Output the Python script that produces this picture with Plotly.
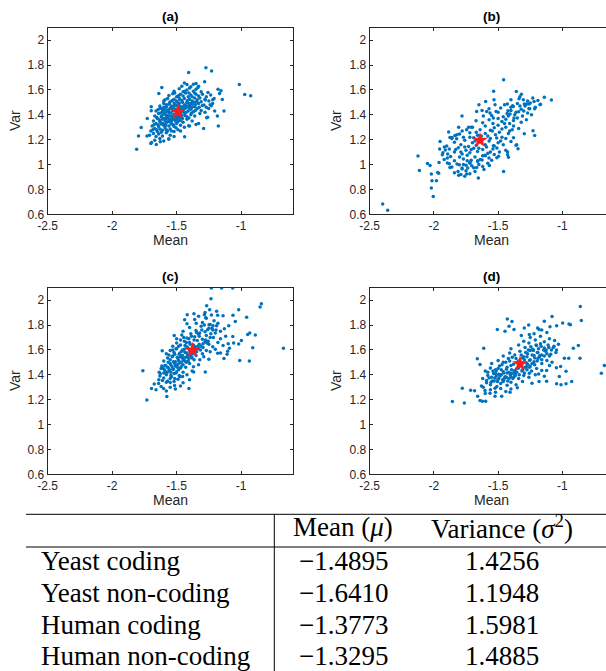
import plotly.graph_objects as go

W, H = 606, 671

# ---------------- data ----------------
row_labels = ["Yeast coding", "Yeast non-coding", "Human coding", "Human non-coding"]
mean_vals = [-1.4895, -1.6410, -1.3773, -1.3295]
var_vals = [1.4256, 1.1948, 1.5981, 1.4885]
panel_titles = ["(a)", "(b)", "(c)", "(d)"]
x_tick_vals = [-2.5, -2.0, -1.5, -1.0]
x_tick_text = ["-2.5", "-2", "-1.5", "-1"]
y_tick_vals = [0.6, 0.8, 1.0, 1.2, 1.4, 1.6, 1.8, 2.0]
y_tick_text = ["0.6", "0.8", "1", "1.2", "1.4", "1.6", "1.8", "2"]

yeast_coding_pts = [
    (-1.273,1.778),(-1.407,1.74),(-1.229,1.751),(-1.35,1.652),(-1.283,1.665),(-1.42,1.644),(-1.335,1.62),
    (-1.615,1.62),(-1.014,1.644),(-0.972,1.563),(-0.926,1.553),(-1.179,1.606),(-1.156,1.593),(-1.167,1.572),
    (-1.146,1.523),(-1.133,1.43),(-1.638,1.572),(-1.697,1.465),(-1.697,1.432),(-1.728,1.371),(-1.775,1.298),
    (-1.796,1.229),(-1.81,1.122),(-1.695,1.178),(-1.658,1.162),(-1.627,1.183),(-1.562,1.205),(-1.438,1.224),
    (-1.407,1.312),(-1.35,1.322),(-1.291,1.29),(-1.267,1.376),(-1.177,1.309),(-1.205,1.43),(-1.184,1.39),
    (-1.231,1.473),(-1.21,1.531),(-1.73,1.23),(-1.70,1.17),(-1.26,1.38),(-1.33,1.33),(-1.40,1.31),(-1.47,1.27),
    (-1.257,1.58),(-1.236,1.558),(-1.278,1.518),(-1.221,1.491),(-1.252,1.45),(-1.288,1.478),
    (-1.46,1.63),(-1.44,1.655),(-1.39,1.625),(-1.37,1.645),(-1.33,1.63),
    (-1.52,1.59),(-1.48,1.61),(-1.45,1.585),(-1.42,1.60),(-1.40,1.615),(-1.37,1.59),(-1.35,1.605),(-1.31,1.585),
    (-1.56,1.555),(-1.53,1.57),(-1.50,1.545),(-1.47,1.565),(-1.45,1.55),(-1.43,1.575),(-1.41,1.545),(-1.39,1.56),
    (-1.36,1.575),(-1.33,1.55),(-1.30,1.565),(-1.27,1.545),
    (-1.60,1.51),(-1.57,1.53),(-1.55,1.505),(-1.52,1.525),(-1.50,1.51),(-1.48,1.535),(-1.46,1.515),(-1.44,1.53),
    (-1.42,1.505),(-1.40,1.525),(-1.38,1.51),(-1.36,1.535),(-1.34,1.52),(-1.31,1.505),(-1.28,1.525),(-1.25,1.51),(-1.22,1.52),
    (-1.63,1.47),(-1.60,1.49),(-1.58,1.465),(-1.56,1.485),(-1.54,1.47),(-1.52,1.495),(-1.50,1.475),(-1.48,1.49),
    (-1.46,1.465),(-1.44,1.48),(-1.42,1.495),(-1.40,1.47),(-1.38,1.485),(-1.36,1.465),(-1.33,1.49),(-1.30,1.475),
    (-1.27,1.46),(-1.24,1.48),
    (-1.66,1.43),(-1.63,1.45),(-1.61,1.425),(-1.59,1.445),(-1.57,1.435),(-1.55,1.455),(-1.53,1.43),(-1.51,1.445),
    (-1.49,1.425),(-1.47,1.45),(-1.45,1.435),(-1.43,1.455),(-1.41,1.43),(-1.39,1.445),(-1.37,1.425),(-1.34,1.45),
    (-1.31,1.435),(-1.28,1.42),
    (-1.67,1.39),(-1.64,1.41),(-1.62,1.385),(-1.60,1.405),(-1.58,1.395),(-1.56,1.415),(-1.54,1.39),(-1.52,1.405),
    (-1.50,1.385),(-1.48,1.41),(-1.46,1.395),(-1.44,1.415),(-1.42,1.385),(-1.39,1.40),(-1.36,1.39),(-1.32,1.41),
    (-1.68,1.35),(-1.65,1.37),(-1.63,1.345),(-1.61,1.365),(-1.59,1.355),(-1.57,1.375),(-1.55,1.345),(-1.53,1.365),
    (-1.51,1.35),(-1.49,1.37),(-1.47,1.355),(-1.45,1.34),(-1.42,1.365),(-1.38,1.35),
    (-1.69,1.31),(-1.66,1.33),(-1.64,1.305),(-1.62,1.325),(-1.60,1.315),(-1.58,1.335),(-1.56,1.31),(-1.54,1.325),
    (-1.52,1.305),(-1.50,1.33),(-1.47,1.315),(-1.44,1.30),
    (-1.70,1.27),(-1.67,1.29),(-1.65,1.265),(-1.63,1.285),(-1.61,1.275),(-1.59,1.295),(-1.57,1.27),(-1.55,1.285),
    (-1.52,1.265),(-1.49,1.28),
    (-1.71,1.235),(-1.68,1.25),(-1.66,1.225),(-1.64,1.245),(-1.61,1.23),(-1.58,1.255),(-1.55,1.235),(-1.52,1.225),
    (-1.67,1.195),(-1.63,1.21),(-1.60,1.19),(-1.56,1.205),
    (-1.59,1.52),(-1.555,1.495),(-1.535,1.515),(-1.515,1.48),(-1.495,1.5),(-1.475,1.52),(-1.455,1.5),(-1.435,1.465),
    (-1.415,1.515),(-1.395,1.49),(-1.375,1.5),(-1.355,1.48),(-1.345,1.505),(-1.325,1.46),
    (-1.645,1.44),(-1.625,1.415),(-1.605,1.435),(-1.585,1.42),(-1.565,1.44),(-1.545,1.415),(-1.525,1.455),(-1.505,1.44),
    (-1.485,1.455),(-1.465,1.42),(-1.445,1.445),(-1.425,1.42),(-1.405,1.455),(-1.385,1.415),(-1.355,1.435),
    (-1.655,1.38),(-1.635,1.36),(-1.615,1.39),(-1.595,1.37),(-1.575,1.39),(-1.555,1.365),(-1.535,1.38),(-1.515,1.36),
    (-1.495,1.39),(-1.475,1.375),(-1.455,1.37),(-1.435,1.395),(-1.405,1.375),
    (-1.675,1.32),(-1.645,1.32),(-1.625,1.34),(-1.605,1.33),(-1.585,1.315),(-1.565,1.345),(-1.545,1.335),(-1.525,1.32),(-1.49,1.345),
    (-1.685,1.28),(-1.655,1.28),(-1.62,1.26),(-1.58,1.28),(-1.54,1.27),(-1.505,1.295),
    (-1.515,1.575),(-1.485,1.555),(-1.44,1.59),(-1.405,1.575),(-1.38,1.545),(-1.35,1.565),(-1.32,1.535),
    (-1.62,1.45),(-1.6,1.46),(-1.58,1.48),(-1.56,1.43),(-1.54,1.45),(-1.52,1.47),(-1.5,1.43),(-1.48,1.47),
    (-1.46,1.44),(-1.44,1.46),(-1.42,1.47),(-1.4,1.49),(-1.38,1.46),(-1.36,1.5),(-1.58,1.37),(-1.56,1.39),
    (-1.54,1.35),(-1.52,1.38),(-1.5,1.36),(-1.48,1.39),
]

yeast_noncoding_pts = [
    (-2.399,0.683),(-2.36,0.632),(-2.005,0.744),(-2.02,0.811),(-2.015,0.87),(-1.98,0.87),(-2.02,0.924),
    (-1.97,0.937),(-1.963,0.929),(-2.113,0.953),(-2.124,1.068),(-2.05,1.009),(-2.03,0.993),(-1.96,1.017),
    (-1.952,1.186),(-1.955,1.124),(-1.934,1.079),(-1.919,1.14),(-1.911,1.116),(-1.893,1.084),(-1.895,1.052),
    (-1.885,1.261),(-1.875,1.218),(-1.859,1.218),(-1.836,1.234),(-1.82,1.24),(-1.823,1.208),(-1.807,1.299),
    (-1.781,1.39),(-1.745,1.28),(-1.73,1.299),(-1.708,1.299),(-1.672,1.352),(-1.667,1.427),(-1.649,1.48),
    (-1.625,1.435),(-1.615,1.39),(-1.597,1.507),(-1.589,1.427),(-1.571,1.448),(-1.563,1.414),(-1.535,1.59),
    (-1.532,1.521),(-1.524,1.48),(-1.516,1.427),(-1.537,1.374),(-1.457,1.681),(-1.428,1.486),(-1.423,1.432),
    (-1.407,1.406),(-1.381,1.467),(-1.376,1.374),(-1.387,1.472),(-1.358,1.588),(-1.337,1.529),(-1.319,1.566),
    (-1.303,1.521),(-1.296,1.486),(-1.278,1.486),(-1.254,1.448),(-1.259,1.486),(-1.22,1.507),(-1.215,1.448),
    (-1.174,1.48),(-1.085,1.518),(-1.228,1.272),(-1.215,1.234),(-1.296,1.248),(-1.345,1.127),(-1.355,1.159),
    (-1.426,1.1),(-1.426,1.079),(-1.42,1.058),(-1.457,0.945),(-1.496,1.066),(-1.509,1.132),(-1.511,1.213),
    (-1.537,1.151),(-1.571,1.052),(-1.568,0.993),(-1.602,1.074),(-1.625,1.036),(-1.654,0.892),(-1.659,1.025),
    (-1.667,0.977),(-1.719,1.017),(-1.737,0.972),(-1.745,0.924),(-1.76,0.905),(-1.807,0.913),(-1.812,0.945),
    (-1.781,0.972),(-1.802,0.998),(-1.875,0.977),(-1.88,1.007),(-1.895,1.012),
    (-1.86,1.21),(-1.80,1.245),(-1.77,1.22),(-1.72,1.255),(-1.69,1.215),(-1.66,1.235),(-1.60,1.25),(-1.56,1.21),
    (-1.52,1.24),(-1.47,1.22),(-1.42,1.25),(-1.38,1.215),
    (-1.90,1.15),(-1.84,1.18),(-1.79,1.16),(-1.76,1.195),(-1.73,1.145),(-1.70,1.175),(-1.67,1.155),(-1.63,1.185),
    (-1.60,1.16),(-1.57,1.19),(-1.53,1.15),(-1.50,1.175),(-1.46,1.16),(-1.40,1.185),(-1.36,1.155),
    (-1.93,1.095),(-1.88,1.125),(-1.84,1.1),(-1.81,1.135),(-1.78,1.085),(-1.75,1.115),(-1.72,1.095),(-1.69,1.13),
    (-1.66,1.105),(-1.62,1.12),(-1.58,1.09),(-1.54,1.125),(-1.49,1.1),(-1.44,1.115),
    (-1.92,1.04),(-1.87,1.065),(-1.84,1.03),(-1.80,1.06),(-1.77,1.045),(-1.74,1.075),(-1.71,1.035),(-1.68,1.06),
    (-1.64,1.04),(-1.60,1.07),(-1.55,1.035),(-1.51,1.055),
    (-1.86,0.98),(-1.82,1.005),(-1.78,0.965),(-1.75,0.995),(-1.72,1.01),(-1.69,0.975),(-1.65,1.0),(-1.62,0.985),(-1.58,1.01),
    (-1.84,0.935),(-1.79,0.92),(-1.75,0.95),(-1.72,0.925),(-1.68,0.945),
    (-1.78,1.27),(-1.70,1.3),(-1.64,1.28),(-1.60,1.31),(-1.56,1.275),(-1.53,1.295),(-1.50,1.315),(-1.47,1.285),
    (-1.44,1.3),(-1.41,1.27),(-1.38,1.31),(-1.34,1.29),
    (-1.62,1.335),(-1.57,1.36),(-1.54,1.33),(-1.50,1.37),(-1.47,1.345),(-1.44,1.365),(-1.41,1.33),(-1.38,1.355),
    (-1.35,1.375),(-1.32,1.34),(-1.28,1.36),
    (-1.55,1.395),(-1.50,1.42),(-1.46,1.385),(-1.43,1.41),(-1.40,1.435),(-1.37,1.4),(-1.34,1.425),(-1.31,1.39),
    (-1.27,1.415),(-1.24,1.4),
    (-1.48,1.455),(-1.45,1.48),(-1.40,1.46),(-1.35,1.49),(-1.32,1.445),(-1.29,1.47),(-1.25,1.495),(-1.21,1.46),(-1.17,1.485),
    (-1.40,1.52),(-1.33,1.545),(-1.27,1.51),(-1.23,1.535),(-1.19,1.515),(-1.14,1.54),
    (-1.83,1.12),(-1.79,1.1),(-1.76,1.14),(-1.74,1.03),(-1.71,1.12),(-1.68,1.19),(-1.65,1.13),(-1.62,1.07),
    (-1.59,1.14),(-1.56,1.1),(-1.72,1.22),(-1.67,1.26),(-1.63,1.23),(-1.58,1.23),(-1.545,1.27),(-1.49,1.26),
    (-1.45,1.33),(-1.42,1.39),(-1.39,1.28),(-1.36,1.42),(-1.77,1.0),(-1.705,0.99),(-1.66,1.03),(-1.61,0.96),
    (-1.53,1.08),(-1.48,1.19),(-1.44,1.21),(-1.33,1.47),(-1.3,1.43),(-1.26,1.45),
]

human_coding_pts = [
    (-1.231,2.098),(-1.151,2.098),(-1.065,2.098),(-1.234,2.011),(-1.267,1.955),(-1.244,1.922),(-1.182,1.879),
    (-1.14,1.874),(-1.019,1.922),(-0.957,1.863),(-0.853,1.944),(-0.843,1.97),(-0.89,1.719),(-0.933,1.735),
    (-0.949,1.724),(-0.91,1.617),(-0.936,1.51),(-1.011,1.515),(-1.019,1.647),(-0.998,1.676),(-1.065,1.708),
    (-1.058,1.655),(-1.091,1.614),(-1.109,1.566),(-1.133,1.531),(-1.104,1.59),(-0.672,1.614),(-1.045,1.829),
    (-1.096,1.794),(-1.063,1.879),(-1.762,1.432),(-1.731,1.197),(-1.695,1.29),(-1.674,1.325),(-1.638,1.36),
    (-1.627,1.408),(-1.601,1.29),(-1.576,1.226),(-1.55,1.338),(-1.516,1.314),(-1.454,1.387),(-1.405,1.29),
    (-1.368,1.422),(-1.278,1.422),(-1.182,1.574),(-1.612,1.593),(-1.519,1.716),(-1.438,1.842),(-1.418,1.882),
    (-1.366,1.89),(-1.348,1.815),(-1.322,1.735),(-1.285,1.882),(-1.275,1.858),(-1.249,1.802),(-1.226,1.775),
    (-1.26,1.762),(-1.218,1.794),
    (-1.42,1.81),(-1.36,1.845),(-1.30,1.82),(-1.27,1.855),(-1.24,1.805),(-1.21,1.835),(-1.18,1.815),
    (-1.45,1.75),(-1.40,1.78),(-1.35,1.755),(-1.31,1.79),(-1.28,1.745),(-1.25,1.775),(-1.22,1.76),(-1.19,1.795),
    (-1.16,1.75),(-1.13,1.77),
    (-1.50,1.69),(-1.46,1.72),(-1.42,1.695),(-1.39,1.73),(-1.36,1.705),(-1.33,1.725),(-1.30,1.685),(-1.27,1.715),
    (-1.24,1.7),(-1.20,1.735),(-1.16,1.69),(-1.12,1.71),
    (-1.53,1.63),(-1.50,1.655),(-1.47,1.64),(-1.44,1.67),(-1.42,1.625),(-1.40,1.66),(-1.37,1.64),(-1.34,1.675),
    (-1.31,1.63),(-1.28,1.665),(-1.25,1.645),(-1.22,1.625),(-1.18,1.66),(-1.14,1.635),(-1.10,1.65),
    (-1.58,1.57),(-1.55,1.595),(-1.52,1.58),(-1.50,1.61),(-1.48,1.565),(-1.46,1.59),(-1.44,1.605),(-1.42,1.575),
    (-1.40,1.6),(-1.36,1.58),(-1.33,1.61),(-1.30,1.57),(-1.27,1.595),(-1.24,1.585),(-1.20,1.605),(-1.16,1.575),
    (-1.60,1.51),(-1.57,1.535),(-1.55,1.52),(-1.53,1.55),(-1.51,1.505),(-1.49,1.53),(-1.47,1.545),(-1.45,1.515),
    (-1.43,1.54),(-1.41,1.51),(-1.38,1.535),(-1.35,1.555),(-1.32,1.52),(-1.29,1.545),(-1.25,1.525),
    (-1.62,1.45),(-1.59,1.475),(-1.57,1.46),(-1.55,1.49),(-1.53,1.445),(-1.51,1.47),(-1.49,1.485),(-1.47,1.455),
    (-1.45,1.48),(-1.43,1.46),(-1.40,1.49),(-1.37,1.465),(-1.33,1.48),
    (-1.63,1.39),(-1.60,1.415),(-1.58,1.4),(-1.56,1.43),(-1.54,1.385),(-1.52,1.41),(-1.50,1.425),(-1.48,1.395),
    (-1.45,1.42),(-1.42,1.4),(-1.38,1.43),
    (-1.64,1.33),(-1.61,1.355),(-1.58,1.34),(-1.55,1.37),(-1.52,1.345),(-1.49,1.365),(-1.45,1.335),(-1.40,1.36),
    (-1.66,1.28),(-1.62,1.305),(-1.58,1.27),(-1.55,1.3),(-1.51,1.285),(-1.47,1.31),
    (-1.33,1.87),(-1.28,1.9),(-1.23,1.88),(-1.19,1.91),
    (-1.545,1.48),(-1.525,1.505),(-1.505,1.47),(-1.485,1.515),(-1.465,1.495),(-1.445,1.52),(-1.425,1.5),(-1.405,1.53),
    (-1.385,1.545),(-1.365,1.52),(-1.535,1.545),(-1.515,1.565),(-1.495,1.54),(-1.475,1.575),(-1.455,1.555),(-1.435,1.58),
    (-1.415,1.56),(-1.395,1.59),(-1.375,1.57),(-1.345,1.585),(-1.505,1.61),(-1.485,1.63),(-1.455,1.6),(-1.435,1.635),
    (-1.415,1.615),(-1.395,1.645),(-1.355,1.625),(-1.325,1.645),(-1.295,1.62),(-1.265,1.655),(-1.565,1.455),(-1.585,1.425),
    (-1.545,1.42),(-1.525,1.445),(-1.505,1.415),(-1.485,1.44),(-1.465,1.465),(-1.565,1.5),(-1.585,1.475),(-1.605,1.455),
    (-1.575,1.415),(-1.555,1.44),(-1.535,1.465),(-1.515,1.49),(-1.495,1.46),(-1.475,1.5),(-1.455,1.535),(-1.435,1.51),
    (-1.415,1.545),(-1.395,1.56),(-1.375,1.6),(-1.355,1.59),(-1.335,1.63),(-1.315,1.6),(-1.295,1.65),(-1.275,1.68),
    (-1.255,1.67),(-1.235,1.73),(-1.215,1.7),(-1.195,1.76),(-1.47,1.68),(-1.445,1.7),(-1.425,1.66),(-1.405,1.69),
    (-1.385,1.71),(-1.365,1.68),(-1.345,1.74),(-1.325,1.71),(-1.305,1.76),(-1.285,1.8),(-1.595,1.44),(-1.615,1.47),
    (-1.635,1.42),(-1.545,1.395),(-1.515,1.37),(-1.475,1.385),(-1.6,1.375),(-1.57,1.35),(-1.53,1.6),(-1.56,1.56),
]

human_noncoding_pts = [
    (-1.856,1.185),(-1.763,1.174),(-1.779,1.292),(-1.714,1.276),(-1.683,1.271),(-1.659,1.228),(-1.641,1.193),
    (-1.623,1.188),(-1.597,1.188),(-1.524,1.228),(-1.472,1.228),(-1.602,1.273),(-1.615,1.3),(-1.662,1.528),
    (-1.612,1.613),(-1.641,1.482),(-1.506,1.763),(-1.446,1.75),(-1.428,1.849),(-1.415,1.79),(-1.392,1.828),
    (-1.376,1.763),(-1.319,1.715),(-1.296,1.777),(-1.257,1.723),(-1.262,1.801),(-1.192,1.777),(-1.181,1.763),
    (-1.14,1.83),(-1.096,1.787),(-1.08,1.868),(-1.044,1.795),(-0.997,1.817),(-0.948,1.809),(-0.937,1.803),
    (-0.86,1.948),(-0.852,1.836),(-0.875,1.635),(-0.862,1.533),(-0.914,1.613),(-0.95,1.533),(-0.984,1.533),
    (-0.971,1.429),(-1.013,1.466),(-1.023,1.386),(-1.046,1.456),(-1.1,1.474),(-1.122,1.434),(-1.14,1.389),
    (-1.184,1.407),(-1.122,1.348),(-1.181,1.346),(-1.236,1.332),(-1.044,1.327),(-1.01,1.319),(-0.971,1.327),
    (-0.927,1.346),(-0.673,1.474),(-0.696,1.413),(-1.257,1.413),(-1.35,1.295),(-1.407,1.26),(-1.524,1.292),
    (-1.563,1.252),
    (-1.30,1.67),(-1.25,1.7),(-1.21,1.68),(-1.17,1.71),(-1.14,1.665),(-1.10,1.69),(-1.06,1.675),
    (-1.40,1.61),(-1.34,1.64),(-1.29,1.62),(-1.26,1.655),(-1.23,1.605),(-1.20,1.635),(-1.17,1.65),(-1.14,1.615),
    (-1.11,1.64),(-1.07,1.62),(-1.03,1.645),
    (-1.46,1.55),(-1.41,1.575),(-1.37,1.56),(-1.33,1.59),(-1.30,1.545),(-1.27,1.57),(-1.25,1.595),(-1.22,1.555),
    (-1.19,1.58),(-1.16,1.56),(-1.13,1.59),(-1.09,1.565),(-1.05,1.58),
    (-1.55,1.49),(-1.50,1.515),(-1.46,1.5),(-1.42,1.53),(-1.38,1.485),(-1.34,1.51),(-1.31,1.535),(-1.28,1.495),
    (-1.25,1.52),(-1.22,1.505),(-1.19,1.53),(-1.16,1.49),(-1.12,1.515),(-1.08,1.5),
    (-1.60,1.43),(-1.56,1.455),(-1.52,1.44),(-1.49,1.47),(-1.46,1.425),(-1.43,1.46),(-1.40,1.475),(-1.37,1.435),
    (-1.34,1.455),(-1.31,1.44),(-1.28,1.465),(-1.24,1.43),(-1.20,1.45),(-1.16,1.435),
    (-1.62,1.37),(-1.58,1.395),(-1.55,1.38),(-1.52,1.41),(-1.50,1.365),(-1.48,1.4),(-1.45,1.375),(-1.43,1.415),
    (-1.40,1.385),(-1.37,1.405),(-1.34,1.37),(-1.30,1.395),(-1.26,1.38),(-1.21,1.4),
    (-1.63,1.31),(-1.59,1.335),(-1.56,1.32),(-1.53,1.35),(-1.51,1.305),(-1.48,1.33),(-1.46,1.345),(-1.43,1.315),
    (-1.40,1.34),(-1.36,1.32),(-1.31,1.345),
    (-1.60,1.25),(-1.56,1.28),(-1.52,1.26),(-1.48,1.29),(-1.44,1.265),(-1.40,1.285),
    (-1.22,1.73),(-1.16,1.76),(-1.12,1.74),
    (-1.545,1.35),(-1.525,1.375),(-1.505,1.345),(-1.485,1.39),(-1.465,1.36),(-1.445,1.385),(-1.425,1.35),(-1.405,1.4),
    (-1.385,1.37),(-1.365,1.395),(-1.535,1.41),(-1.515,1.43),(-1.495,1.405),(-1.475,1.44),(-1.455,1.415),(-1.435,1.445),
    (-1.415,1.42),(-1.395,1.44),(-1.375,1.425),(-1.355,1.45),
    (-1.295,1.52),(-1.275,1.545),(-1.255,1.515),(-1.235,1.56),(-1.215,1.535),(-1.195,1.58),(-1.175,1.555),(-1.265,1.6),
    (-1.245,1.625),(-1.225,1.595),(-1.205,1.64),(-1.185,1.61),(-1.165,1.63),(-1.145,1.6),
    (-1.33,1.47),(-1.31,1.495),(-1.29,1.46),(-1.27,1.485),(-1.25,1.47),(-1.35,1.5),
    (-1.59,1.355),(-1.57,1.375),(-1.555,1.34),(-1.515,1.39),(-1.495,1.37),(-1.475,1.4),(-1.455,1.36),(-1.435,1.38),
    (-1.415,1.37),(-1.395,1.41),(-1.375,1.385),(-1.355,1.42),(-1.335,1.4),(-1.315,1.43),(-1.295,1.415),(-1.275,1.44),
    (-1.255,1.46),(-1.235,1.49),(-1.215,1.48),(-1.195,1.51),(-1.18,1.54),(-1.16,1.52),(-1.14,1.55),(-1.12,1.57),
    (-1.1,1.55),(-1.125,1.6),(-1.105,1.62),(-1.085,1.6),(-1.065,1.63),(-1.045,1.6),(-1.58,1.42),(-1.54,1.43),
    (-1.5,1.45),(-1.47,1.48),(-1.44,1.5),(-1.41,1.51),(-1.39,1.54),(-1.36,1.53),(-1.32,1.56),(-1.285,1.58),
]

panel_points = [yeast_coding_pts, yeast_noncoding_pts, human_coding_pts, human_noncoding_pts]

# ---------------- layout geometry (page pixels) ----------------
def px(x):
    return x / W

def py(y):
    return 1 - y / H

left_dom = [px(47.7), px(292.7)]
right_dom = [px(369.7), 1.0]
top_dom = [py(214.3), py(27.7)]
bot_dom = [py(474.3), py(287.7)]
x_range_left = [-2.5, -0.6]
x_range_right = [-2.5, -2.5 + (W - 369.7) / 128.4]

panels = [
    dict(xd=left_dom, yd=top_dom, xr=x_range_left, right=True, cx=170.2, ty=16.7, ly=240, vx=15, vy=121),
    dict(xd=right_dom, yd=top_dom, xr=x_range_right, right=False, cx=491.7, ty=16.7, ly=240, vx=336, vy=121),
    dict(xd=left_dom, yd=bot_dom, xr=x_range_left, right=True, cx=170.2, ty=276.7, ly=500, vx=15, vy=381),
    dict(xd=right_dom, yd=bot_dom, xr=x_range_right, right=False, cx=491.7, ty=276.7, ly=500, vx=336, vy=381),
]

AX = "#262626"
SANS = "Liberation Sans, Arial, Helvetica, sans-serif"
SERIF = "Liberation Serif, Times New Roman, serif"

fig = go.Figure()
annotations = []
layout = {}

for i, (p, pts) in enumerate(zip(panels, panel_points)):
    n = "" if i == 0 else str(i + 1)
    xs = [a for a, b in pts]
    ys = [b for a, b in pts]
    fig.add_trace(go.Scatter(
        x=xs, y=ys, mode="markers", xaxis="x" + n, yaxis="y" + n,
        marker=dict(size=3.5, color="#0072BD", line=dict(width=0)),
        showlegend=False, hoverinfo="skip"))
    fig.add_trace(go.Scatter(
        x=[mean_vals[i]], y=[var_vals[i]], mode="markers", xaxis="x" + n, yaxis="y" + n,
        marker=dict(symbol="star", size=12, color="#FF1A1A", line=dict(width=0)),
        showlegend=False, hoverinfo="skip"))
    layout["xaxis" + n] = dict(
        domain=p["xd"], range=p["xr"], anchor="y" + n, automargin=False,
        tickvals=x_tick_vals, ticktext=x_tick_text, ticks="inside", ticklen=3, tickwidth=1,
        tickcolor=AX, showline=True, linecolor=AX, linewidth=1, mirror="ticks",
        showgrid=False, zeroline=False, tickfont=dict(family=SANS, size=12, color=AX))
    layout["yaxis" + n] = dict(
        domain=p["yd"], range=[0.6, 2.1], anchor="x" + n, automargin=False,
        tickvals=y_tick_vals, ticktext=y_tick_text, ticks="inside", ticklen=3, tickwidth=1,
        tickcolor=AX, showline=True, linecolor=AX, linewidth=1,
        mirror="ticks" if p["right"] else False,
        showgrid=False, zeroline=False, tickfont=dict(family=SANS, size=12, color=AX))
    annotations.append(dict(text="<b>" + panel_titles[i] + "</b>", x=px(p["cx"]), y=py(p["ty"]),
                            xref="paper", yref="paper", showarrow=False, xanchor="center", yanchor="middle",
                            font=dict(family=SANS, size=13.5, color="#000000")))
    annotations.append(dict(text="Mean", x=px(p["cx"]), y=py(p["ly"]),
                            xref="paper", yref="paper", showarrow=False, xanchor="center", yanchor="middle",
                            font=dict(family=SANS, size=14, color=AX)))
    annotations.append(dict(text="Var", x=px(p["vx"]), y=py(p["vy"]), textangle=-90,
                            xref="paper", yref="paper", showarrow=False, xanchor="center", yanchor="middle",
                            font=dict(family=SANS, size=14, color=AX)))

# ---------------- table ----------------
TFS = 27
header_y = 527
row_ys = [561, 592.8, 624.5, 656.3]
mean_cx = 343
var_cx = 502
label_x = 39

annotations.append(dict(text="Mean (<i>μ</i>)", x=px(mean_cx), y=py(header_y), xref="paper", yref="paper",
                        showarrow=False, xanchor="center", yanchor="middle",
                        font=dict(family=SERIF, size=TFS, color="#000000")))
annotations.append(dict(text="Variance (<i>σ</i><sup>2</sup>)", x=px(var_cx), y=py(header_y), xref="paper",
                        yref="paper", showarrow=False, xanchor="center", yanchor="middle",
                        font=dict(family=SERIF, size=TFS, color="#000000")))
for lab, m, v, ry in zip(row_labels, mean_vals, var_vals, row_ys):
    annotations.append(dict(text=lab, x=px(label_x), y=py(ry), xref="paper", yref="paper",
                            showarrow=False, xanchor="left", yanchor="middle",
                            font=dict(family=SERIF, size=TFS, color="#000000")))
    annotations.append(dict(text=f"{m:.4f}".replace("-", "\u2212"), x=px(mean_cx), y=py(ry), xref="paper",
                            yref="paper", showarrow=False, xanchor="center", yanchor="middle",
                            font=dict(family=SERIF, size=TFS, color="#000000")))
    annotations.append(dict(text=f"{v:.4f}", x=px(var_cx), y=py(ry), xref="paper", yref="paper",
                            showarrow=False, xanchor="center", yanchor="middle",
                            font=dict(family=SERIF, size=TFS, color="#000000")))

shapes = [
    dict(type="line", xref="paper", yref="paper", x0=px(26), x1=1.0, y0=py(514.3), y1=py(514.3),
         line=dict(color="#000000", width=1)),
    dict(type="line", xref="paper", yref="paper", x0=px(26), x1=1.0, y0=py(547), y1=py(547),
         line=dict(color="#000000", width=1)),
    dict(type="line", xref="paper", yref="paper", x0=px(274.3), x1=px(274.3), y0=py(514.3), y1=0.0,
         line=dict(color="#000000", width=1)),
]

fig.update_layout(
    width=W, height=H, margin=dict(l=0, r=0, t=0, b=0, pad=0, autoexpand=False),
    paper_bgcolor="white", plot_bgcolor="white",
    annotations=annotations, shapes=shapes, showlegend=False, **layout)

fig.write_html("out.html", config={"displayModeBar": False},
               post_script="document.body.style.margin='0px';document.body.style.overflow='hidden';")
